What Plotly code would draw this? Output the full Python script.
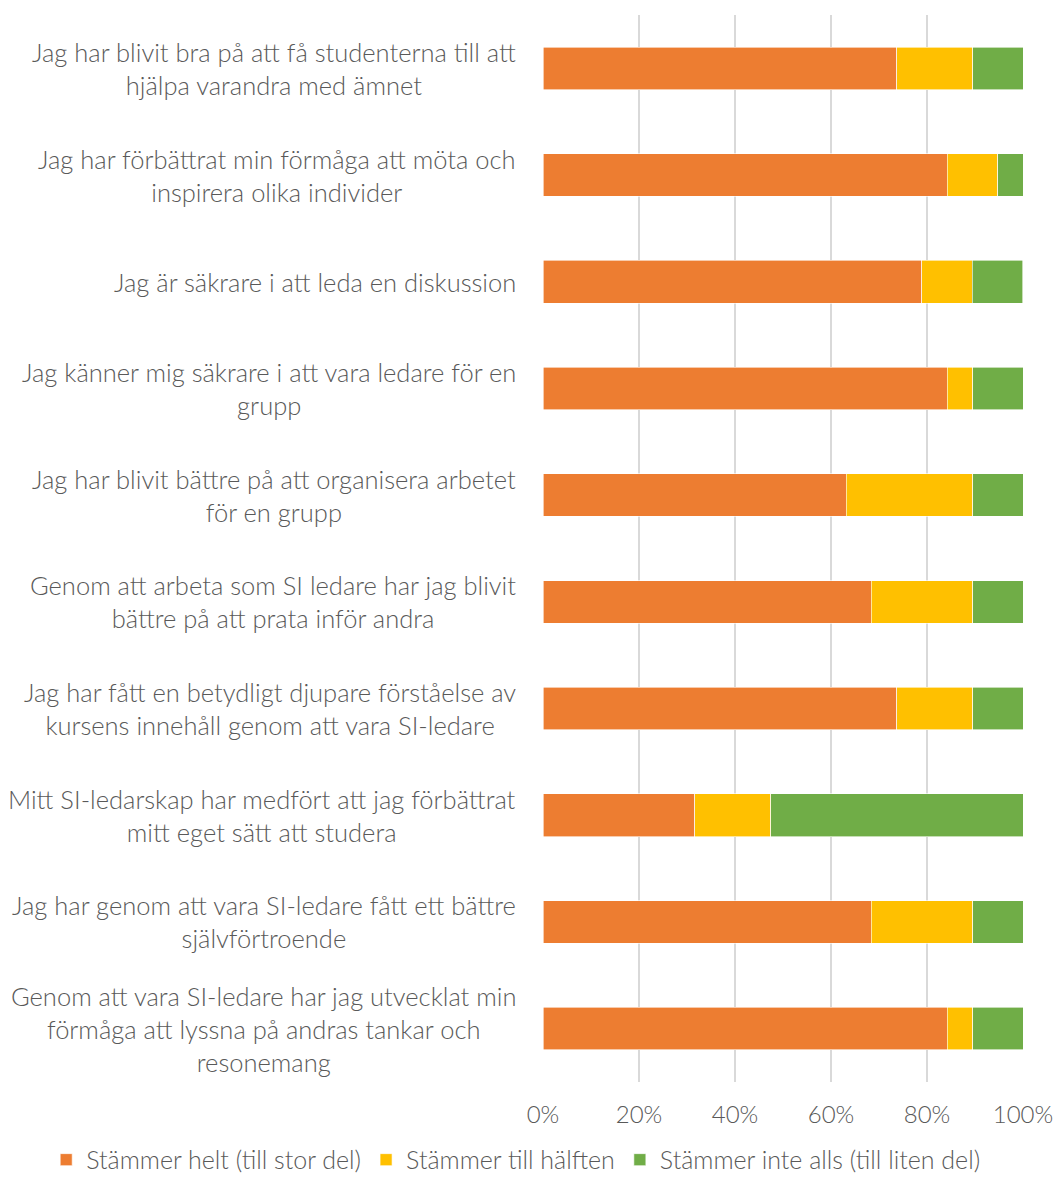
import plotly.graph_objects as go

# Survey statements (top to bottom)
statements = [
    "Jag har blivit bra på att få studenterna till att<br>hjälpa varandra med ämnet",
    "Jag har förbättrat min förmåga att möta och<br>inspirera olika individer",
    "Jag är säkrare i att leda en diskussion",
    "Jag känner mig säkrare i att vara ledare för en<br>grupp",
    "Jag har blivit bättre på att organisera arbetet<br>för en grupp",
    "Genom att arbeta som SI ledare har jag blivit<br>bättre på att prata inför andra",
    "Jag har fått en betydligt djupare förståelse av<br>kursens innehåll genom att vara SI-ledare",
    "Mitt SI-ledarskap har medfört att jag förbättrat<br>mitt eget sätt att studera",
    "Jag har genom att vara SI-ledare fått ett bättre<br>självförtroende",
    "Genom att vara SI-ledare har jag utvecklat min<br>förmåga att lyssna på andras tankar och<br>resonemang",
]

# Share of answers per statement (%)
helt = [73.7, 84.2, 78.9, 84.2, 63.2, 68.4, 73.7, 31.6, 68.4, 84.2]
halften = [15.8, 10.5, 10.5, 5.3, 26.3, 21.1, 15.8, 15.8, 21.1, 5.3]
inte_alls = [10.5, 5.3, 10.5, 10.5, 10.5, 10.5, 10.5, 52.6, 10.5, 10.5]

series_names = [
    "Stämmer helt (till stor del)",
    "Stämmer till hälften",
    "Stämmer inte alls (till liten del)",
]
colors = ["#ED7D31", "#FFC000", "#70AD47"]

x_ticks = [0, 20, 40, 60, 80, 100]
x_tick_labels = ["0%", "20%", "40%", "60%", "80%", "100%"]

FONT = "Lato"
TEXT = "#595959"

fig = go.Figure()
for name, vals, col in zip(series_names, [helt, halften, inte_alls], colors):
    fig.add_trace(go.Bar(
        y=statements, x=vals, name=name, orientation="h",
        marker=dict(color=col, line=dict(color="white", width=0.6)),
    ))

# Centered multi-line category labels to the left of the plot area
for s in statements:
    fig.add_annotation(
        x=0, xref="paper", y=s, yref="y",
        text=s, showarrow=False, xanchor="right", xshift=-25,
        align="center", font=dict(family=FONT, size=25.5, color=TEXT, weight=300),
    )

fig.update_layout(
    width=1054, height=1184,
    margin=dict(l=543, r=31, t=15, b=102, autoexpand=False),
    barmode="stack", bargap=0.6,
    plot_bgcolor="white", paper_bgcolor="white",
    font=dict(family=FONT, size=25, color=TEXT, weight=300),
    xaxis=dict(
        range=[0, 100], tickvals=x_ticks, ticktext=x_tick_labels,
        showgrid=True, gridcolor="#D9D9D9", gridwidth=1.5,
        zeroline=False, showline=False, ticks="",
        tickfont=dict(family=FONT, size=24, color=TEXT, weight=300),
        ticklabelstandoff=16,
    ),
    yaxis=dict(
        autorange="reversed", showticklabels=False,
        showgrid=False, zeroline=False, showline=False, ticks="",
    ),
    # Legend placed left of and below the plot area so it can span the full width
    legend=dict(
        orientation="h", xref="paper", x=-1.035, xanchor="left",
        yref="paper", y=-0.073, yanchor="middle",
        font=dict(family=FONT, size=25, color=TEXT, weight=300),
        bgcolor="rgba(0,0,0,0)",
        itemwidth=30, traceorder="normal",
    ),
    showlegend=True,
)

fig.write_html("out.html")
